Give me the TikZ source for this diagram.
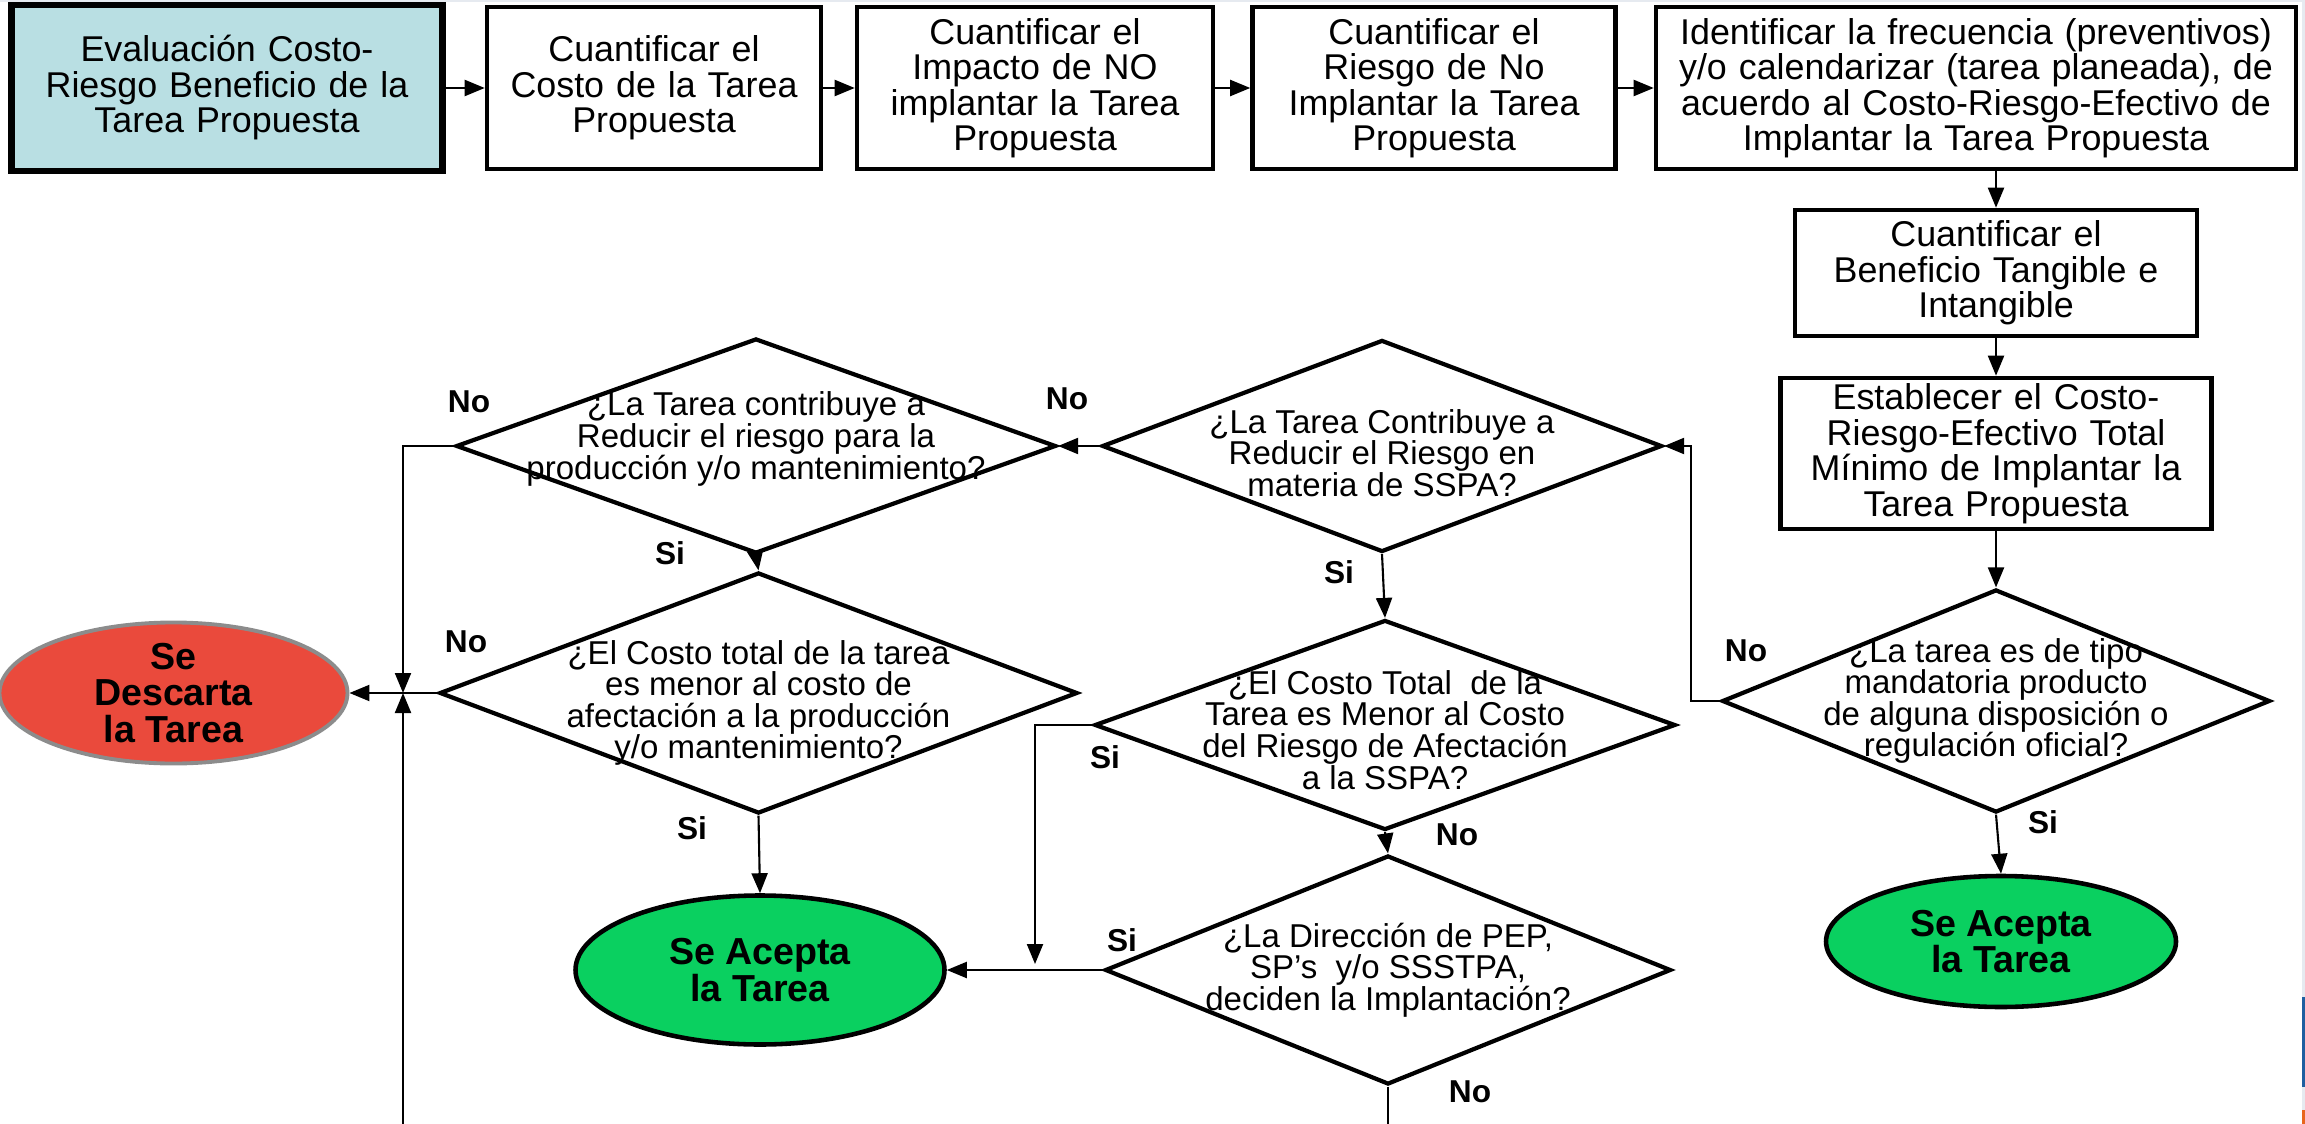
\documentclass[tikz,border=0pt]{standalone}
\usepackage{fontspec}
\setmainfont{Liberation Sans}
\usetikzlibrary{positioning,arrows.meta,shapes.geometric}
\definecolor{celeste}{HTML}{B9DFE3}
\definecolor{rojo}{HTML}{EA4A3C}
\definecolor{verde}{HTML}{0AD060}
\definecolor{gris}{HTML}{8C8C8C}
\definecolor{franja}{HTML}{E6EAF0}
\definecolor{azul}{HTML}{1F5FA0}
\definecolor{naranja}{HTML}{E8661E}

\begin{document}
\begin{tikzpicture}[x=1mm,y=-1mm,
  font=\fontsize{10.2}{10.1}\selectfont,
  paso/.style={rectangle,draw,line width=1.3pt,minimum height=16.2mm,inner sep=1pt,align=center},
  decision/.style={diamond,draw,line width=1.2pt,inner sep=0pt},
  pregunta/.style={align=center,inner sep=0pt,font=\fontsize{9.4}{9}\selectfont},
  fin/.style={ellipse,draw,line width=1.3pt,inner sep=0pt,align=center,font=\fontsize{10.7}{10.4}\selectfont\bfseries},
  resp/.style={font=\fontsize{9}{9}\selectfont\bfseries,inner sep=0pt},
  flecha/.style={line width=0.6pt,-{Triangle[length=2mm,width=1.6mm]}},
  linea/.style={line width=0.6pt}]

\useasboundingbox (0,0) rectangle (230.5,112.4);
\fill[franja] (230.2,0) rectangle (230.5,112.4);
\fill[franja] (0,0) rectangle (230.5,0.2);
\fill[azul] (230.2,99.7) rectangle (230.5,108.7);
\fill[naranja] (230.2,111) rectangle (230.5,112.4);

% fila superior
\node[paso,fill=celeste,line width=1.8pt,text width=40mm,minimum width=43.1mm,minimum height=16.6mm] (eval) at (22.7,8.8)
  {Evaluación Costo-\\Riesgo Beneficio de la\\Tarea Propuesta};
\node[paso,text width=31mm,minimum width=33.4mm] (costo) at (65.4,8.8)
  {Cuantificar el\\Costo de la Tarea\\Propuesta};
\node[paso,text width=33mm,minimum width=35.6mm] (impacto) at (103.5,8.8)
  {Cuantificar el\\Impacto de NO\\implantar la Tarea\\Propuesta};
\node[paso,text width=34mm,minimum width=36.3mm] (riesgo) at (143.4,8.8)
  {Cuantificar el\\Riesgo de No\\Implantar la Tarea\\Propuesta};
\node[paso,text width=62mm,minimum width=64mm] (frec) at (197.6,8.8)
  {Identificar la frecuencia (preventivos)\\y/o calendarizar (tarea planeada), de\\acuerdo al Costo-Riesgo-Efectivo de\\Implantar la Tarea Propuesta};

% columna derecha
\node[paso,text width=38mm,minimum width=40.2mm,minimum height=12.6mm] (benef) at (199.6,27.3)
  {Cuantificar el\\Beneficio Tangible e\\Intangible};
\node[paso,text width=41mm,minimum width=43.1mm,minimum height=15.1mm] (establ) at (199.6,45.35)
  {Establecer el Costo-\\Riesgo-Efectivo Total\\Mínimo de Implantar la\\Tarea Propuesta};
\node[decision,minimum width=54.8mm,minimum height=22.3mm,
  label={[pregunta]center:{¿La tarea es de tipo\\mandatoria producto\\de alguna disposición o\\regulación oficial?}}] (dmand) at (199.6,70.1) {};
\node[fin,fill=verde,minimum width=35mm,minimum height=13.1mm] (aceptaR) at (200.1,94.15) {Se Acepta\\la Tarea};

% rombos centrales
\node[decision,minimum width=56mm,minimum height=21.2mm,
  label={[pregunta,yshift=-0.7mm]center:{¿La Tarea Contribuye a\\Reducir el Riesgo en\\materia de SSPA?}}] (dssp) at (138.2,44.6) {};
\node[decision,minimum width=58.1mm,minimum height=21mm,
  label={[pregunta,yshift=-0.5mm]center:{¿El Costo Total~~de la\\Tarea es Menor al Costo\\del Riesgo de Afectación\\a la SSPA?}}] (dcost2) at (138.5,72.5) {};
\node[decision,minimum width=56.6mm,minimum height=22.9mm,
  label={[pregunta]center:{¿La Dirección de PEP,\\SP’s~~y/o SSSTPA,\\deciden la Implantación?}}] (ddir) at (138.8,97) {};

% rombos izquierdos
\node[decision,minimum width=60mm,minimum height=21.5mm,
  label={[pregunta,yshift=0.7mm]center:{¿La Tarea contribuye a\\Reducir el riesgo para la\\producción y/o mantenimiento?}}] (dprod) at (75.6,44.6) {};
\node[decision,minimum width=63.8mm,minimum height=24.1mm,
  label={[pregunta,yshift=-1mm]center:{¿El Costo total de la tarea\\es menor al costo de\\afectación a la producción\\y/o mantenimiento?}}] (dcost) at (75.85,69.3) {};
\node[fin,fill=verde,minimum width=36.9mm,minimum height=14.9mm] (aceptaL) at (76,97) {Se Acepta\\la Tarea};
\node[fin,fill=rojo,draw=gris,line width=1.1pt,minimum width=34.8mm,minimum height=13.3mm] (descarta) at (17.35,69.3) {Se\\Descarta\\la Tarea};

\coordinate (cruce) at (40.3,69.3);
\coordinate (pie) at (40.3,112.4);
\coordinate (codo) at (103.5,96.4);

% conectores
\draw[flecha] (eval) -- (costo);
\draw[flecha] (costo) -- (impacto);
\draw[flecha] (impacto) -- (riesgo);
\draw[flecha] (riesgo) -- (frec);
\draw[flecha] (benef.north |- frec.south) -- (benef.north);
\draw[flecha] (benef) -- (establ);
\draw[flecha] (establ) -- (dmand);
\draw[flecha] (dmand.south) -- (aceptaR.north);
\draw[flecha] (dmand.west) -- ++(-2.9,0) |- (dssp.east);
\draw[flecha] (dssp.west) -- (dprod.east);
\draw[flecha] (dssp.south) -- (dcost2.north);
\draw[flecha] (dcost2.south) -- (ddir.north);
\draw[flecha] (dcost2.west) -| (codo);
\draw[flecha] (ddir.west) -- (aceptaL.east);
\draw[linea] (ddir.south) -- (ddir.south |- pie);
\draw[flecha] (dprod.south) -- (dcost.north);
\draw[flecha] (dcost.south) -- (aceptaL.north);
\draw[flecha] (dcost.west) -- (descarta.east);
\draw[flecha] (dprod.west) -| (cruce);
\draw[flecha] (pie) -- (cruce);

% respuestas
\node[resp] at (46.9,40.2) {No};
\node[resp] at (46.6,64.2) {No};
\node[resp] at (67.0,55.3) {Si};
\node[resp] at (69.2,82.8) {Si};
\node[resp] at (106.7,39.9) {No};
\node[resp] at (133.9,57.2) {Si};
\node[resp] at (110.5,75.7) {Si};
\node[resp] at (145.7,83.5) {No};
\node[resp] at (112.2,94.0) {Si};
\node[resp] at (147.0,109.2) {No};
\node[resp] at (174.6,65.1) {No};
\node[resp] at (204.3,82.2) {Si};
\end{tikzpicture}
\end{document}
